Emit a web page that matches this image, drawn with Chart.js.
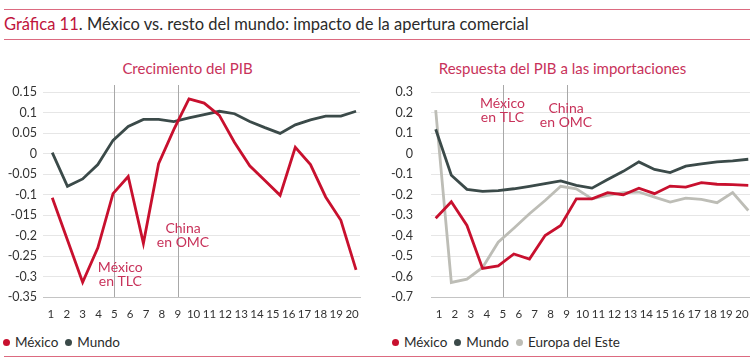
<!DOCTYPE html>
<html>
<head>
<meta charset="utf-8">
<script src="https://cdn.jsdelivr.net/npm/chart.js@4.4.1/dist/chart.umd.min.js"></script>
<style>
    body { margin: 0; width: 750px; height: 363px; background: #fff; position: relative; overflow: hidden; font-family: Lato, sans-serif; color: #2b2b2b; }
    .rule { position: absolute; left: 4px; width: 746px; height: 0; border-top: 1.5px solid #dc6a80; }
    .title { position: absolute; left: 4px; top: 13px; font-size: 16.5px; line-height: 22px; white-space: nowrap; }
    .title b { font-weight: 400; color: #c0143c; }
    .sub { position: absolute; top: 58px; width: 375px; text-align: center; font-size: 15px; line-height: 20px; color: #c8325a; }
    canvas { position: absolute; top: 80px; }
    .legend { position: absolute; top: 333px; font-size: 13.5px; line-height: 18px; white-space: nowrap; }
    .legend span { display: inline-block; margin-right: 7px; }
    .legend i { display: inline-block; width: 7px; height: 7px; border-radius: 50%; margin-right: 5px; vertical-align: 1px; }
</style>
</head>
<body>

<div class="rule" style="top: 9px"></div>
<div class="title"><b>Gráfica 11</b>. México vs. resto del mundo: impacto de la apertura comercial</div>
<div class="rule" style="top: 39px"></div>

<div class="sub" style="left: 0">Crecimiento del PIB</div>
<div class="sub" style="left: 375px">Respuesta del PIB a las importaciones</div>

<canvas id="left" width="375" height="250" style="left: 0"></canvas>
<canvas id="right" width="375" height="250" style="left: 375px"></canvas>

<div class="legend" id="legendLeft" style="left: 3px"></div>
<div class="legend" id="legendRight" style="left: 392px"></div>

<div class="rule" style="top: 356px"></div>

<script>

// eje x visible (20 periodos); las series tienen 21 observaciones
const periods = [ '1', '2', '3', '4', '5', '6', '7', '8', '9', '10', '11', '12', '13', '14', '15', '16', '17', '18', '19', '20' ];

// Crecimiento del PIB
const growthMexico = [ -0.108, -0.211, -0.314, -0.23, -0.098, -0.056, -0.219, -0.025, 0.058, 0.133, 0.123, 0.093, 0.027, -0.03, -0.066, -0.102, 0.015, -0.027, -0.106, -0.163, -0.284 ];
const growthMundo = [ 0.002, -0.08, -0.062, -0.027, 0.032, 0.066, 0.083, 0.083, 0.078, 0.087, 0.095, 0.103, 0.097, 0.078, 0.063, 0.049, 0.07, 0.082, 0.091, 0.091, 0.103 ];

// Respuesta del PIB a las importaciones
const importsMexico = [ -0.316, -0.235, -0.351, -0.561, -0.548, -0.49, -0.515, -0.4, -0.351, -0.221, -0.221, -0.191, -0.201, -0.169, -0.196, -0.159, -0.164, -0.142, -0.15, -0.152, -0.155 ];
const importsMundo = [ 0.118, -0.106, -0.175, -0.185, -0.181, -0.172, -0.16, -0.147, -0.134, -0.155, -0.169, -0.127, -0.087, -0.041, -0.078, -0.093, -0.062, -0.051, -0.041, -0.036, -0.028 ];
const importsEuropa = [ 0.212, -0.629, -0.613, -0.556, -0.433, -0.365, -0.294, -0.229, -0.16, -0.172, -0.221, -0.204, -0.191, -0.188, -0.213, -0.237, -0.218, -0.224, -0.24, -0.191, -0.278 ];

const leftTicks = [ -0.35, -0.3, -0.25, -0.2, -0.15, -0.1, -0.05, 0, 0.05, 0.1, 0.15 ];
const leftTickLabels = [ '-0.35', '-0.3', '-0.25', '-0.2', '-015', '-0.1', '-0.05', '0', '0.05', '0.1', '0.15' ];
const rightTicks = [ -0.7, -0.6, -0.5, -0.4, -0.3, -0.2, -0.1, 0, 0.1, 0.2, 0.3 ];
const rightTickLabels = [ '-0.7', '-0.6', '-0.5', '-0.4', '-0.3', '-0.2', '-0.1', '0', '0.1', '0.2', '0.3' ];

const RED = '#c8102e';
const DARK = '#3b4a49';
const GREY = '#bdbdb6';
const NOTE = '#c8325a';

const markers = {
    id: 'markers',
    beforeDatasetsDraw ( chart, args, opts ) {
        const { ctx, chartArea, scales } = chart;
        ctx.save();
        ctx.strokeStyle = '#a8a8a8';
        ctx.lineWidth = 1;
        opts.lines.forEach( p => {
            const x = Math.round( scales.x.getPixelForValue( periods.indexOf( p ) ) ) + 0.5;
            ctx.beginPath();
            ctx.moveTo( x, chartArea.top - 7 );
            ctx.lineTo( x, chartArea.bottom );
            ctx.stroke();
        } );
        ctx.restore();
    },
    afterDraw ( chart, args, opts ) {
        const { ctx, scales } = chart;
        ctx.save();
        ctx.fillStyle = NOTE;
        ctx.font = '14px Lato, sans-serif';
        ctx.textAlign = 'center';
        ctx.textBaseline = 'middle';
        opts.notes.forEach( n => {
            const x = scales.x2.getPixelForValue( n.x );
            const y = scales.y.getPixelForValue( n.y );
            n.text.forEach( ( t, i ) => ctx.fillText( t, x, y + i * 14 ) );
        } );
        ctx.restore();
    }
};

function series ( values ) {
    return values.map( ( v, i ) => ( { x: i, y: v } ) );
}

function renderPanel ( canvas, cfg ) {

    new Chart( canvas, {
        type: 'line',
        data: {
            labels: periods,
            datasets: cfg.datasets.map( d => ( {
                label: d.label,
                data: series( d.values ),
                xAxisID: 'x2',
                borderColor: d.color,
                borderWidth: 2.8,
                pointRadius: 0,
                tension: 0,
                clip: false
            } ) )
        },
        options: {
            responsive: false,
            animation: false,
            layout: { padding: { top: 12, right: cfg.padRight, bottom: 0, left: 0 } },
            plugins: {
                legend: { display: false },
                tooltip: { enabled: false },
                markers: { lines: [ '5', '9' ], notes: cfg.notes }
            },
            scales: {
                x: {
                    type: 'category',
                    offset: true,
                    grid: { display: false, drawTicks: false },
                    border: { color: '#c4c4c4' },
                    ticks: { padding: 10, maxRotation: 0, autoSkip: false, color: '#333', font: { size: 11.5 } },
                    afterFit: s => { s.height = 33; s.paddingLeft = 0; s.paddingRight = 0; }
                },
                x2: {
                    type: 'linear',
                    display: false,
                    min: cfg.xMin,
                    max: cfg.xMax
                },
                y: {
                    min: cfg.ticks[ 0 ],
                    max: cfg.ticks[ cfg.ticks.length - 1 ],
                    afterBuildTicks: s => { s.ticks = cfg.ticks.map( value => ( { value } ) ); },
                    grid: { color: '#e6e6e6', drawTicks: false },
                    border: { display: false },
                    ticks: {
                        padding: cfg.tickPad,
                        color: '#333',
                        font: { size: 12.5 },
                        callback: ( v, i ) => cfg.tickLabels[ i ]
                    },
                    afterFit: s => { s.width = cfg.axisWidth; s.paddingTop = 0; s.paddingBottom = 0; }
                }
            }
        },
        plugins: [ markers ]
    } );

}

function renderLegend ( el, items ) {
    el.innerHTML = items.map( d => `<span><i style="background:${ d.color }"></i>${ d.label }</span>` ).join( '' );
}

document.addEventListener( 'DOMContentLoaded', function () {

    Chart.defaults.font.family = 'Lato, sans-serif';

    const left = [
        { label: 'México', values: growthMexico, color: RED },
        { label: 'Mundo', values: growthMundo, color: DARK }
    ];
    const right = [
        { label: 'México', values: importsMexico, color: RED },
        { label: 'Mundo', values: importsMundo, color: DARK },
        { label: 'Europa del Este', values: importsEuropa, color: GREY }
    ];

    renderPanel( document.getElementById( 'left' ), {
        datasets: left,
        ticks: leftTicks,
        tickLabels: leftTickLabels,
        axisWidth: 43,
        tickPad: 6,
        padRight: 15,
        xMin: -0.61,
        xMax: 20.26,
        notes: [
            { text: [ 'México', 'en TLC' ], x: 4.48, y: -0.279 },
            { text: [ 'China', 'en OMC' ], x: 8.61, y: -0.184 }
        ]
    } );

    renderPanel( document.getElementById( 'right' ), {
        datasets: right,
        ticks: rightTicks,
        tickLabels: rightTickLabels,
        axisWidth: 56,
        tickPad: 18,
        padRight: 0,
        xMin: -0.3,
        xMax: 20.11,
        notes: [
            { text: [ 'México', 'en TLC' ], x: 4.27, y: 0.245 },
            { text: [ 'China', 'en OMC' ], x: 8.34, y: 0.22 }
        ]
    } );

    renderLegend( document.getElementById( 'legendLeft' ), left );
    renderLegend( document.getElementById( 'legendRight' ), right );

} );

</script>
</body>
</html>
